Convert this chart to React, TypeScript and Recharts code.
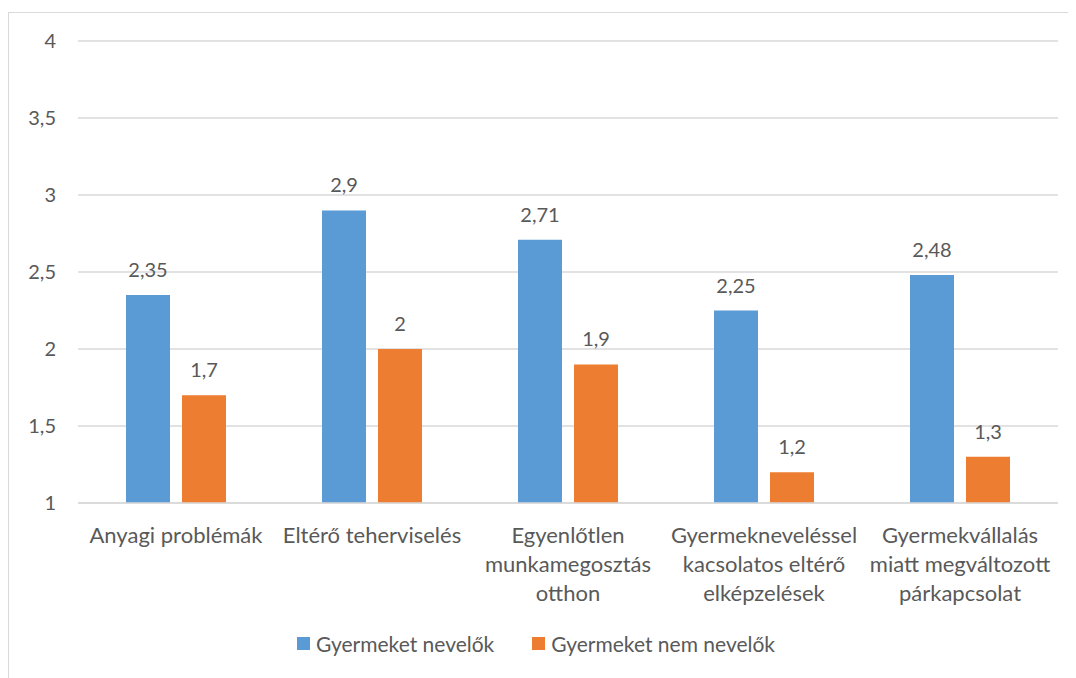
import React from 'react';
import { BarChart, Bar, XAxis, YAxis, CartesianGrid, Legend, LabelList } from 'recharts';

const categories = [
  'Anyagi problémák',
  'Eltérő teherviselés',
  'Egyenlőtlen\nmunkamegosztás\notthon',
  'Gyermekneveléssel\nkacsolatos eltérő\nelképzelések',
  'Gyermekvállalás\nmiatt megváltozott\npárkapcsolat',
];
const nevelok = [2.35, 2.9, 2.71, 2.25, 2.48];
const nemNevelok = [1.7, 2, 1.9, 1.2, 1.3];
const yTicks = [1, 1.5, 2, 2.5, 3, 3.5, 4];

const data = categories.map((name, i) => ({
  name,
  nevelok: nevelok[i],
  nemNevelok: nemNevelok[i],
}));

const FONT = 'Lato, "Open Sans", sans-serif';
const TEXT = '#595959';
const BLUE = '#5B9BD5';
const ORANGE = '#ED7D31';

const comma = (v: number | string) => String(v).replace('.', ',');

const CategoryTick = (props: any) => {
  const { x, y, payload } = props;
  const lines = String(payload.value).split('\n');
  return (
    <text x={x} y={y + 38} textAnchor="middle" fill={TEXT} fontSize={22} fontFamily={FONT}>
      {lines.map((line, i) => (
        <tspan key={i} x={x} dy={i === 0 ? 0 : 29}>
          {line}
        </tspan>
      ))}
    </text>
  );
};

const LegendContent = () => (
  <div style={{ display: 'flex', paddingLeft: 288, fontFamily: FONT, fontSize: 21, color: TEXT }}>
    {[
      { label: 'Gyermeket nevelők', color: BLUE },
      { label: 'Gyermeket nem nevelők', color: ORANGE },
    ].map((item) => (
      <div key={item.label} style={{ display: 'flex', alignItems: 'center', marginRight: 38 }}>
        <span style={{ width: 13, height: 13, background: item.color, display: 'inline-block', marginRight: 6 }} />
        <span>{item.label}</span>
      </div>
    ))}
  </div>
);

export default function App() {
  return (
    <div
      style={{
        marginTop: 4,
        width: 1068,
        height: 666,
        borderTop: '1px solid #d9d9d9',
        borderLeft: '1px solid #d9d9d9',
        boxSizing: 'border-box',
        overflow: 'hidden',
      }}
    >
      <BarChart
        width={1060}
        height={660}
        data={data}
        margin={{ top: 28, right: 11, left: 0, bottom: 60 }}
        barSize={44}
        barGap={12}
      >
        <CartesianGrid vertical={false} stroke="#d9d9d9" strokeWidth={1.3} />
        <XAxis
          dataKey="name"
          interval={0}
          height={110}
          tickLine={false}
          tickSize={0}
          axisLine={{ stroke: '#d9d9d9', strokeWidth: 1.3 }}
          tick={<CategoryTick />}
        />
        <YAxis
          width={69}
          domain={[1, 4]}
          ticks={yTicks}
          axisLine={false}
          tickLine={false}
          tickSize={0}
          tickMargin={22}
          tickFormatter={comma}
          tick={{ fill: TEXT, fontSize: 20, fontFamily: FONT }}
        />
        <Legend
          layout="horizontal"
          verticalAlign="middle"
          align="center"
          content={<LegendContent />}
          wrapperStyle={{ top: 618, left: 0, width: 1060 }}
        />
        <Bar dataKey="nevelok" name="Gyermeket nevelők" fill={BLUE} isAnimationActive={false}>
          <LabelList
            dataKey="nevelok"
            position="top"
            offset={18}
            formatter={comma}
            fill={TEXT}
            fontSize={20}
            fontFamily={FONT}
          />
        </Bar>
        <Bar dataKey="nemNevelok" name="Gyermeket nem nevelők" fill={ORANGE} isAnimationActive={false}>
          <LabelList
            dataKey="nemNevelok"
            position="top"
            offset={18}
            formatter={comma}
            fill={TEXT}
            fontSize={20}
            fontFamily={FONT}
          />
        </Bar>
      </BarChart>
    </div>
  );
}
